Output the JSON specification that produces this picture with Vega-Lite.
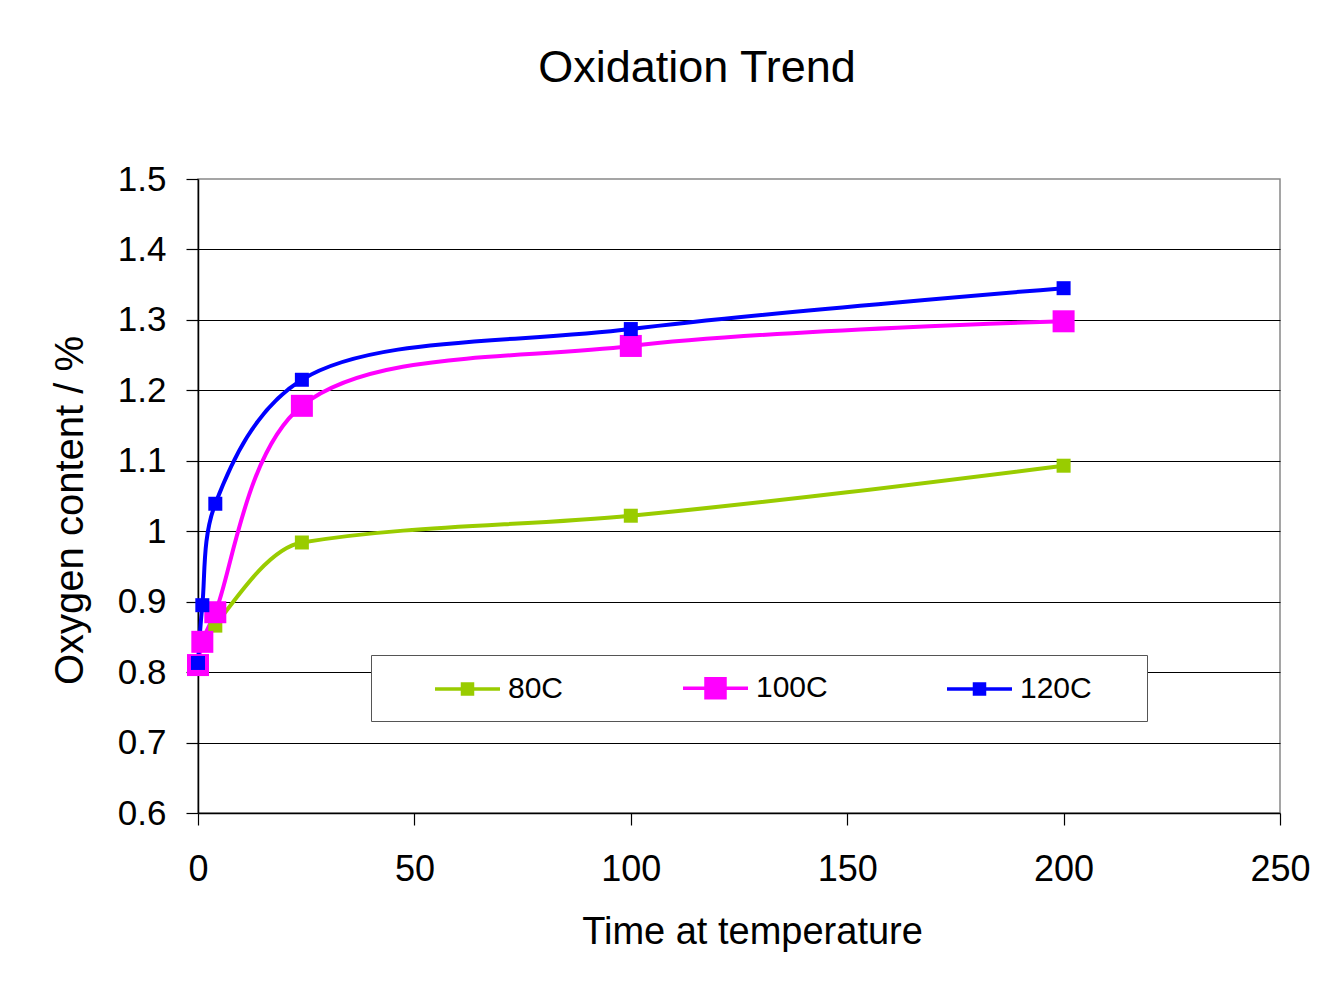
{
  "$schema": "https://vega.github.io/schema/vega-lite/v6.json",
  "autosize": "none",
  "width": 1082,
  "height": 634,
  "padding": {"left": 198, "top": 179, "right": 62, "bottom": 177},
  "background": "white",
  "title": {
    "text": "Oxidation Trend",
    "fontSize": 45,
    "fontWeight": "normal",
    "color": "black",
    "anchor": "middle",
    "frame": "group",
    "dx": -42,
    "baseline": "alphabetic",
    "offset": 35
  },
  "data": {
    "values": [
      {"time": 4, "oxygen": 0.866, "series": "80C"},
      {"time": 24, "oxygen": 0.984, "series": "80C"},
      {"time": 100, "oxygen": 1.022, "series": "80C"},
      {"time": 200, "oxygen": 1.093, "series": "80C"},
      {"time": 0, "oxygen": 0.81, "series": "100C"},
      {"time": 1, "oxygen": 0.843, "series": "100C"},
      {"time": 4, "oxygen": 0.885, "series": "100C"},
      {"time": 24, "oxygen": 1.178, "series": "100C"},
      {"time": 100, "oxygen": 1.263, "series": "100C"},
      {"time": 200, "oxygen": 1.298, "series": "100C"},
      {"time": 0, "oxygen": 0.813, "series": "120C"},
      {"time": 1, "oxygen": 0.895, "series": "120C"},
      {"time": 4, "oxygen": 1.039, "series": "120C"},
      {"time": 24, "oxygen": 1.215, "series": "120C"},
      {"time": 100, "oxygen": 1.287, "series": "120C"},
      {"time": 200, "oxygen": 1.345, "series": "120C"}
    ]
  },
  "encoding": {
    "x": {
      "field": "time",
      "type": "quantitative",
      "scale": {"domain": [0, 250], "nice": false},
      "axis": {
        "values": [0, 50, 100, 150, 200, 250],
        "title": "Time at temperature",
        "titleFontSize": 38,
        "titleFontWeight": "normal",
        "titleColor": "black",
        "titleX": 554,
        "titleY": 130,
        "titleBaseline": "alphabetic",
        "titleAlign": "center",
        "labelFontSize": 36,
        "labelColor": "black",
        "labelPadding": 27,
        "labelFlush": false,
        "labelOverlap": false,
        "tickSize": 12,
        "tickColor": "black",
        "tickWidth": 1.2,
        "domainColor": "black",
        "domainWidth": 1.5,
        "grid": false,
        "encode": {"ticks": {"update": {"y": {"value": -12}}}}
      }
    },
    "y": {
      "field": "oxygen",
      "type": "quantitative",
      "scale": {"domain": [0.6, 1.5], "nice": false, "zero": false},
      "axis": {
        "values": [0.6, 0.7, 0.8, 0.9, 1, 1.1, 1.2, 1.3, 1.4, 1.5],
        "format": "~g",
        "title": "Oxygen content / %",
        "titleFontSize": 40,
        "titleFontWeight": "normal",
        "titleColor": "black",
        "titleAngle": -90,
        "titleX": -116,
        "titleY": 331,
        "titleBaseline": "alphabetic",
        "titleAlign": "center",
        "labelFontSize": 35,
        "labelColor": "black",
        "labelPadding": 20,
        "labelOverlap": false,
        "tickSize": 12,
        "tickColor": "black",
        "tickWidth": 1.2,
        "domainColor": "black",
        "domainWidth": 1.5,
        "grid": true,
        "gridColor": "black",
        "gridWidth": 1,
        "gridOpacity": {"condition": {"test": "datum.value > 1.45 || datum.value < 0.65", "value": 0}, "value": 1},
        "encode": {"ticks": {"update": {"x": {"value": 12}}}}
      }
    },
    "color": {
      "field": "series",
      "type": "nominal",
      "scale": {"domain": ["80C", "100C", "120C"], "range": ["#99CC00", "#FF00FF", "#0000FF"]},
      "legend": {
        "title": null,
        "orient": "none",
        "legendX": 173,
        "legendY": 476,
        "direction": "horizontal",
        "columns": 3,
        "padding": 16,
        "strokeColor": "#555555",
        "fillColor": "white",
        "labelFontSize": 30,
        "labelColor": "black",
        "symbolSize": 900,
        "symbolOffset": 46,
        "labelOffset": 41,
        "columnPadding": 71,
        "symbolStrokeWidth": 3.5,
        "symbolType": "M-1,0H3.333M0.833,-0.333H1.5V0.333H0.833Z",
        "encode": {
          "symbols": {
            "update": {
              "shape": {"signal": "datum.value === '100C' ? 'M-1,0H3.333M0.533,-0.633H1.8V0.633H0.533Z' : datum.value === '120C' ? 'M-1,0H3.333M0.833,-0.333H1.5V0.333H0.833ZM10.8,0' : 'M-1,0H3.333M0.833,-0.333H1.5V0.333H0.833Z'"},
              "fill": {"scale": "color", "field": "value"},
              "stroke": {"scale": "color", "field": "value"},
              "strokeWidth": {"value": 3.5},
              "size": {"value": 900},
              "opacity": {"value": 1}
            }
          }
        }
      }
    }
  },
  "layer": [
    {
      "transform": [{"filter": "datum.series === '80C'"}],
      "mark": {"type": "line", "interpolate": "monotone", "strokeWidth": 4}
    },
    {
      "transform": [{"filter": "datum.series !== '80C'"}],
      "mark": {"type": "line", "interpolate": "catmull-rom", "strokeWidth": 4}
    },
    {
      "transform": [{"filter": "datum.series === '80C'"}],
      "mark": {"type": "point", "shape": "square", "filled": true, "opacity": 1, "strokeWidth": 0, "size": 196}
    },
    {
      "transform": [{"filter": "datum.series === '100C'"}],
      "mark": {"type": "point", "shape": "square", "filled": true, "opacity": 1, "strokeWidth": 0, "size": 484}
    },
    {
      "transform": [{"filter": "datum.series === '120C'"}],
      "mark": {"type": "point", "shape": "square", "filled": true, "opacity": 1, "strokeWidth": 0, "size": 196}
    }
  ],
  "config": {
    "font": "Liberation Sans",
    "view": {"stroke": "#888888", "strokeWidth": 1.5}
  }
}
